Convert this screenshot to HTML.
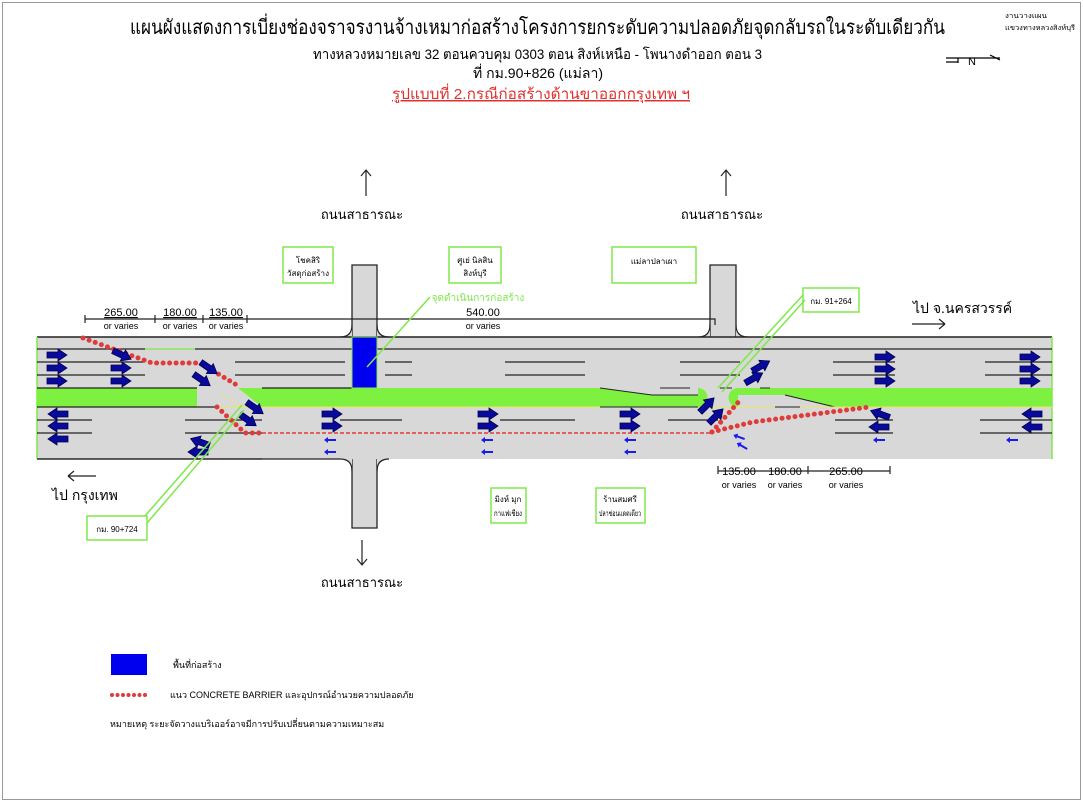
<!DOCTYPE html>
<html><head><meta charset="utf-8"><style>
html,body{margin:0;padding:0;background:#fff}
svg{display:block}
text{font-family:"Liberation Sans","Noto Sans CJK SC",sans-serif;fill:#000}
</style></head><body>
<svg width="1083" height="804" viewBox="0 0 1083 804" xmlns="http://www.w3.org/2000/svg">
<defs>
<polygon id="ar" points="-10,-3 1,-3 1,-6 10,0 1,6 1,3 -10,3" fill="#0a0a9a" stroke="#000050" stroke-width="0.8"/>
<polygon id="sa" points="-6,-1 2,-1 2,-3 6,0 2,3 2,1 -6,1" fill="#1a1aee"/>
</defs>
<rect x="2.5" y="2.5" width="1078" height="797" fill="none" stroke="#999" stroke-width="1"/>
<!-- titles -->
<text x="130" y="34" font-size="20" textLength="815" lengthAdjust="spacingAndGlyphs">แผนผังแสดงการเบี่ยงช่องจราจรงานจ้างเหมาก่อสร้างโครงการยกระดับความปลอดภัยจุดกลับรถในระดับเดียวกัน</text>
<text x="313" y="59" font-size="14" textLength="449" lengthAdjust="spacingAndGlyphs">ทางหลวงหมายเลข 32 ตอนควบคุม 0303 ตอน สิงห์เหนือ - โพนางดำออก ตอน 3</text>
<text x="473" y="78" font-size="14" textLength="130" lengthAdjust="spacingAndGlyphs">ที่ กม.90+826 (แม่ลา)</text>
<text x="392" y="99" font-size="15" textLength="298" lengthAdjust="spacingAndGlyphs" style="fill:#e03030" text-decoration="underline">รูปแบบที่ 2.กรณีก่อสร้างด้านขาออกกรุงเทพ ฯ</text>
<text x="1005" y="18" font-size="7" textLength="42" lengthAdjust="spacingAndGlyphs">งานวางแผน</text>
<text x="1005" y="30" font-size="7" textLength="70" lengthAdjust="spacingAndGlyphs">แขวงทางหลวงสิงห์บุรี</text>
<g stroke="#000" stroke-width="1.2" fill="none"><path d="M946 58H1000M946 62H958M990 55L1000 60M958 58V63"/></g>
<text x="968" y="65" font-size="11">N</text>
<!-- side roads -->
<g fill="#d8d8d8" stroke="#222" stroke-width="1.3">
<path d="M352 337V265H377V337"/>
<path d="M710 337V265H736V337"/>
<path d="M352 459V528H377V459"/>
</g>
<!-- main road -->
<rect x="37" y="337" width="1015" height="122" fill="#d8d8d8"/>
<g fill="#d8d8d8" stroke="none"><path d="M340 337Q352 337 352 325V337Z M389 337Q377 337 377 325V337Z M698 337Q710 337 710 325V337Z M748 337Q736 337 736 325V337Z M340 459Q352 459 352 471V459Z M389 459Q377 459 377 471V459Z"/></g>
<g stroke="#222" stroke-width="1.2" fill="none"><path d="M340 337Q352 337 352 325 M389 337Q377 337 377 325 M698 337Q710 337 710 325 M748 337Q736 337 736 325 M340 459Q352 459 352 471 M389 459Q377 459 377 471"/></g>
<line x1="37" y1="337" x2="1052" y2="337" stroke="#222" stroke-width="1.5"/>
<line x1="37" y1="459" x2="340" y2="459" stroke="#222" stroke-width="1.3"/>
<line x1="37" y1="337" x2="37" y2="459" stroke="#7ee84a" stroke-width="1.5"/>
<line x1="1052" y1="337" x2="1052" y2="459" stroke="#7ee84a" stroke-width="1.5"/>
<!-- median -->
<rect x="37" y="388" width="160" height="19" fill="#7ef040"/>
<rect x="238" y="388" width="460" height="19" fill="#7ef040"/>
<rect x="738" y="388" width="314" height="19" fill="#7ef040"/>
<polygon points="600,388 652,395 698,395 698,388" fill="#d8d8d8"/>
<polygon points="785,395 835,407 738,407 738,395" fill="#d8d8d8"/>
<path d="M600 388L652 395H698 M785 395L835 407" stroke="#222" stroke-width="1" fill="none"/>
<path d="M698 388a9.5 9.5 0 0 1 0 19Z" fill="#7ef040"/>
<path d="M738 388a9.5 9.5 0 0 0 0 19Z" fill="#7ef040"/>
<polygon points="197,388 238,388 262,407 217,407" fill="#d8d8d8"/>
<line x1="37" y1="407" x2="1052" y2="407" stroke="#e8e860" stroke-width="1"/>
<line x1="220" y1="395" x2="245" y2="407" stroke="#e8e860" stroke-dasharray="3 2"/>
<!-- lane lines -->
<g stroke="#222" stroke-width="1.3">
<line x1="37" y1="349" x2="145" y2="349"/><line x1="195" y1="349" x2="1052" y2="349"/>
<line x1="145" y1="349" x2="195" y2="349" stroke="#7ee84a"/>
<path d="M37 362H145M235 362H345M385 362H412M505 362H585M680 362H740M833 362H895M985 362H1052"/>
<path d="M37 375H145M235 375H345M385 375H412M505 375H585M680 375H740M833 375H895M985 375H1052"/>
<path d="M37 420H92M185 420H262M340 420H402M500 420H575M668 420H718M835 420H893M980 420H1052"/>
<path d="M37 433H92M185 433H262M835 433H893M980 433H1052"/>
<path d="M37 459H262" />
<path d="M600 407H698M660 388H690M720 388H732M760 388H770M775 407H800" stroke-width="1"/>
<path d="M37 388H197M262 388H352M37 407H217"/>
</g>
<!-- construction area -->
<rect x="352" y="337" width="25" height="51" fill="#0000ee" stroke="#7ee84a" stroke-width="1"/>
<!-- barriers -->
<g fill="none" stroke="#e03a3a" stroke-width="5" stroke-linecap="round" stroke-dasharray="0 6.5">
<polyline points="83,338 152,363 200,363 240,387"/>
<polyline points="217,407 245,433 262,433"/>
<polyline points="712,432 742,398"/>
<polyline points="712,432 753,422 870,407"/>
</g>
<line x1="262" y1="433" x2="712" y2="433" stroke="#e03a3a" stroke-width="1.5" stroke-dasharray="4 2"/>
<!-- arrows -->
<g>
<use href="#ar" x="57" y="355"/><use href="#ar" x="57" y="368"/><use href="#ar" x="57" y="381"/>
<use href="#ar" x="121" y="368"/><use href="#ar" x="121" y="381"/>
<use href="#ar" transform="translate(122,355) rotate(25)"/>
<use href="#ar" transform="translate(209,368) rotate(35)"/>
<use href="#ar" transform="translate(202,380) rotate(35)"/>
<use href="#ar" transform="translate(255,408) rotate(35)"/>
<use href="#ar" transform="translate(248,420) rotate(35)"/>
<use href="#ar" transform="translate(58,414) rotate(180)"/><use href="#ar" transform="translate(58,426) rotate(180)"/><use href="#ar" transform="translate(58,439) rotate(180)"/>
<use href="#ar" transform="translate(200,442) rotate(200)"/><use href="#ar" transform="translate(198,452) rotate(180)"/>
<use href="#ar" x="332" y="414"/><use href="#ar" x="332" y="426"/>
<use href="#ar" x="488" y="414"/><use href="#ar" x="488" y="426"/>
<use href="#ar" x="630" y="414"/><use href="#ar" x="630" y="426"/>
<use href="#ar" x="885" y="357"/><use href="#ar" x="885" y="369"/><use href="#ar" x="885" y="381"/>
<use href="#ar" x="1030" y="357"/><use href="#ar" x="1030" y="369"/><use href="#ar" x="1030" y="381"/>
<use href="#ar" transform="translate(761,366) rotate(-30)"/><use href="#ar" transform="translate(754,378) rotate(-30)"/>
<use href="#ar" transform="translate(707,405) rotate(-45)"/><use href="#ar" transform="translate(716,416) rotate(-45)"/>
<use href="#ar" transform="translate(880,414) rotate(200)"/><use href="#ar" transform="translate(879,427) rotate(180)"/>
<use href="#ar" transform="translate(1032,414) rotate(180)"/><use href="#ar" transform="translate(1032,427) rotate(180)"/>
<use href="#sa" transform="translate(330,440) rotate(180)"/><use href="#sa" transform="translate(330,452) rotate(180)"/>
<use href="#sa" transform="translate(487,440) rotate(180)"/><use href="#sa" transform="translate(487,452) rotate(180)"/>
<use href="#sa" transform="translate(630,440) rotate(180)"/><use href="#sa" transform="translate(630,452) rotate(180)"/>
<use href="#sa" transform="translate(739,437) rotate(200)"/><use href="#sa" transform="translate(742,446) rotate(210)"/>
<use href="#sa" transform="translate(879,440) rotate(180)"/><use href="#sa" transform="translate(1012,440) rotate(180)"/>
</g>
<!-- dimensions -->
<g stroke="#222" stroke-width="1.2" fill="none">
<path d="M85 319H715V325M85 315V323M155 315V323M203 315V323M247 315V323"/>
<path d="M718 471H890M718 466V474M808 466V474M890 466V474"/>
</g>
<g font-size="11" text-anchor="middle">
<text x="121" y="316" text-decoration="underline">265.00</text><text x="121" y="329" font-size="9">or varies</text>
<text x="180" y="316" text-decoration="underline">180.00</text><text x="180" y="329" font-size="9">or varies</text>
<text x="226" y="316" text-decoration="underline">135.00</text><text x="226" y="329" font-size="9">or varies</text>
<text x="483" y="316">540.00</text><text x="483" y="329" font-size="9">or varies</text>
<text x="739" y="475">135.00</text><text x="739" y="488" font-size="9">or varies</text>
<text x="785" y="475">180.00</text><text x="785" y="488" font-size="9">or varies</text>
<text x="846" y="475">265.00</text><text x="846" y="488" font-size="9">or varies</text>
</g>
<!-- public roads -->
<g stroke="#222" stroke-width="1.2" fill="none">
<path d="M366 196V170M361 176L366 170L371 176"/>
<path d="M726 196V170M721 176L726 170L731 176"/>
<path d="M362 540V565M357 559L362 565L367 559"/>
<path d="M68 476H96M68 476L74 471M68 476L74 481"/>
<path d="M912 324H945M945 324L939 319M945 324L939 329"/>
</g>
<text x="362" y="219" font-size="13" text-anchor="middle">ถนนสาธารณะ</text>
<text x="722" y="219" font-size="13" text-anchor="middle">ถนนสาธารณะ</text>
<text x="362" y="587" font-size="13" text-anchor="middle">ถนนสาธารณะ</text>
<text x="52" y="500" font-size="14">ไป  กรุงเทพ</text>
<text x="913" y="313" font-size="14">ไป จ.นครสวรรค์</text>
<!-- boxes -->
<g fill="none" stroke="#7ee84a" stroke-width="1.5">
<rect x="283" y="247" width="50" height="36"/>
<rect x="449" y="247" width="52" height="36"/>
<rect x="612" y="247" width="84" height="36"/>
<rect x="803" y="288" width="56" height="24"/>
<rect x="87" y="516" width="60" height="24"/>
<rect x="491" y="488" width="35" height="35"/>
<rect x="596" y="488" width="49" height="35"/>
<path d="M803 295L718 388M805 300L722 392"/>
<path d="M145 516L242 405M147 523L244 410"/>
<path d="M430 297L367 367"/>
</g>
<g font-size="8" text-anchor="middle">
<text x="308" y="263">โชคสิริ</text><text x="308" y="276" textLength="42" lengthAdjust="spacingAndGlyphs">วัสดุก่อสร้าง</text>
<text x="475" y="263">ศูเย่ นิลสิน</text><text x="475" y="276">สิงห์บุรี</text>
<text x="654" y="264">แม่ลาปลาเผา</text>
<text x="831" y="304">กม. 91+264</text>
<text x="117" y="532">กม. 90+724</text>
<text x="508" y="502">มิงห์ มุก</text><text x="508" y="516" textLength="28" lengthAdjust="spacingAndGlyphs">กาแฟเชียง</text>
<text x="620" y="502">ร้านสมศรี</text><text x="620" y="516" textLength="42" lengthAdjust="spacingAndGlyphs">ปลาช่อนแดดเดียว</text>
<text x="478" y="301" style="fill:#7ee84a" font-size="10">จุดดำเนินการก่อสร้าง</text>
</g>
<!-- legend -->
<rect x="111" y="654" width="36" height="21" fill="#0000ee"/>
<text x="173" y="668" font-size="9">พื้นที่ก่อสร้าง</text>
<line x1="112" y1="695" x2="148" y2="695" stroke="#e03a3a" stroke-width="4" stroke-linecap="round" stroke-dasharray="0 5.5"/>
<text x="170" y="698" font-size="9">แนว CONCRETE BARRIER และอุปกรณ์อำนวยความปลอดภัย</text>
<text x="110" y="727" font-size="9">หมายเหตุ   ระยะจัดวางแบริเออร์อาจมีการปรับเปลี่ยนตามความเหมาะสม</text>
</svg>
</body></html>
